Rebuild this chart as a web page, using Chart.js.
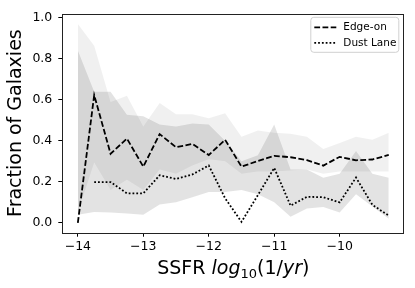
<!DOCTYPE html>
<html>
<head>
<meta charset="utf-8"/>
<style>
  body { margin: 0; padding: 0; background: #fff; }
  #wrap { width: 415px; height: 288px; }
</style>
</head>
<body>
<div id="wrap"><canvas id="chart" width="415" height="288"></canvas></div>
<script src="https://cdn.jsdelivr.net/npm/chart.js@4/dist/chart.umd.min.js"></script>
<script>
// bins of specific star formation rate (log10 1/yr)
var ssfr = [-14.0, -13.75, -13.5, -13.25, -13.0, -12.75, -12.5, -12.25, -12.0, -11.75,
            -11.5, -11.25, -11.0, -10.75, -10.5, -10.25, -10.0, -9.75, -9.5, -9.25];

var edgeOn   = [0.0, 0.623, 0.337, 0.411, 0.274, 0.433, 0.369, 0.385, 0.331, 0.405,
                0.274, 0.302, 0.327, 0.320, 0.306, 0.279, 0.322, 0.305, 0.309, 0.331];
var dustLane = [null, 0.199, 0.199, 0.144, 0.144, 0.232, 0.214, 0.236, 0.280, 0.120,
                0.005, 0.135, 0.268, 0.084, 0.127, 0.125, 0.100, 0.221, 0.088, 0.035];

// shaded ranges
var edgeHi = [0.97, 0.864, 0.59, 0.62, 0.47, 0.585, 0.53, 0.53, 0.51, 0.535,
              0.42, 0.45, 0.44, 0.435, 0.42, 0.36, 0.39, 0.42, 0.405, 0.44];
var edgeLo = [0.05, 0.294, 0.16, 0.21, 0.16, 0.26, 0.24, 0.28, 0.31, 0.30,
              0.24, 0.25, 0.25, 0.255, 0.26, 0.24, 0.25, 0.25, 0.25, 0.25];
var dustHi = [0.84, 0.639, 0.639, 0.527, 0.52, 0.48, 0.47, 0.485, 0.48, 0.40,
              0.30, 0.33, 0.48, 0.26, 0.26, 0.22, 0.24, 0.35, 0.24, 0.22];
var dustLo = [0.04, 0.053, 0.05, 0.046, 0.04, 0.09, 0.10, 0.125, 0.15, 0.15,
              0.16, 0.14, 0.10, 0.03, 0.07, 0.077, 0.05, 0.14, 0.08, 0.02];

var xTicks = [-14, -13, -12, -11, -10];
var yTicks = [0.0, 0.2, 0.4, 0.6, 0.8, 1.0];
var legendLabels = ['Edge-on', 'Dust Lane'];

var DASHED = [5.8, 2.4];
var DOTTED = [1.8, 2.0];

function pts(ys) {
  return ssfr.map(function(x, i) { return {x: x, y: ys[i]}; });
}
function band(ys, fill, color) {
  return {
    data: pts(ys), fill: fill, backgroundColor: color,
    borderColor: 'rgba(0,0,0,0)', borderWidth: 1, pointRadius: 0, tension: 0
  };
}

var FONT = 'DejaVu Sans';
Chart.defaults.font.family = FONT;
Chart.defaults.color = '#000';

var extras = {
  id: 'extras',
  afterDraw: function(chart) {
    var ctx = chart.ctx, a = chart.chartArea;
    ctx.save();
    // axes frame
    ctx.strokeStyle = '#222';
    ctx.lineWidth = 1;
    ctx.strokeRect(Math.round(a.left) + 0.5, Math.round(a.top) + 0.5,
                   Math.round(a.right - a.left) - 1, Math.round(a.bottom - a.top));

    // x axis title with math style parts
    var parts = [
      ['SSFR ', 'normal', 19, 0],
      ['log', 'italic', 19, 0],
      ['10', 'normal', 13, 4],
      ['(1/', 'normal', 19, 0],
      ['yr', 'italic', 19, 0],
      [')', 'normal', 19, 0]
    ];
    var total = 0;
    parts.forEach(function(p) {
      ctx.font = p[1] + ' ' + p[2] + 'px "' + FONT + '"';
      p.push(ctx.measureText(p[0]).width);
      total += p[4];
    });
    var x = (a.left + a.right) / 2 - total / 2;
    ctx.fillStyle = '#000';
    ctx.textBaseline = 'alphabetic';
    ctx.textAlign = 'left';
    parts.forEach(function(p) {
      ctx.font = p[1] + ' ' + p[2] + 'px "' + FONT + '"';
      ctx.fillText(p[0], x, 274 + p[3]);
      x += p[4];
    });

    // legend
    var bx = a.right - 93.5, by = a.top + 3.8, bw = 88, bh = 35;
    ctx.beginPath();
    ctx.roundRect(bx, by, bw, bh, 3);
    ctx.fillStyle = 'rgba(255,255,255,0.8)';
    ctx.fill();
    ctx.strokeStyle = '#d0d0d0';
    ctx.lineWidth = 1;
    ctx.stroke();
    var dashes = [DASHED, DOTTED];
    ctx.font = '10.5px "' + FONT + '"';
    ctx.textBaseline = 'middle';
    legendLabels.forEach(function(lbl, i) {
      var ly = by + 10 + i * 15.5;
      ctx.beginPath();
      ctx.setLineDash(dashes[i]);
      ctx.strokeStyle = '#000';
      ctx.lineWidth = 1.7;
      ctx.moveTo(bx + 3.5, ly);
      ctx.lineTo(bx + 25.5, ly);
      ctx.stroke();
      ctx.setLineDash([]);
      ctx.fillStyle = '#000';
      ctx.fillText(lbl, bx + 32.5, ly);
    });
    ctx.restore();
  }
};

new Chart(document.getElementById('chart'), {
  type: 'line',
  data: {
    datasets: [
      { label: legendLabels[0], data: pts(edgeOn), borderColor: '#000', borderWidth: 1.8,
        borderDash: DASHED, pointRadius: 0, fill: false, tension: 0 },
      { label: legendLabels[1], data: pts(dustLane), borderColor: '#000', borderWidth: 1.8,
        borderDash: DOTTED, pointRadius: 0, fill: false, tension: 0 },
      band(edgeHi, '+1', 'rgba(0,0,0,0.06)'),
      band(edgeLo, false, 'rgba(0,0,0,0)'),
      band(dustHi, '+1', 'rgba(0,0,0,0.11)'),
      band(dustLo, false, 'rgba(0,0,0,0)')
    ]
  },
  options: {
    responsive: false,
    animation: false,
    devicePixelRatio: 1,
    layout: { padding: { top: 10.7, right: 10.7, left: 0, bottom: 0 } },
    plugins: { legend: { display: false }, tooltip: { enabled: false } },
    scales: {
      x: {
        type: 'linear', min: -14.2375, max: -9.0125,
        afterBuildTicks: function(s) { s.ticks = xTicks.map(function(v) { return {value: v}; }); },
        afterFit: function(s) { s.height = 55.3; },
        grid: { drawOnChartArea: false, drawTicks: true, tickLength: 4, color: '#000' },
        border: { display: false },
        ticks: {
          font: { size: 12.5 }, color: '#000', padding: 3, maxRotation: 0,
          callback: function(v) { return (v < 0 ? '\u2212' : '') + Math.abs(v); }
        }
      },
      y: {
        min: -0.048, max: 1.021,
        afterBuildTicks: function(s) { s.ticks = yTicks.map(function(v) { return {value: v}; }); },
        afterFit: function(s) { s.width = 62.3; },
        grid: { drawOnChartArea: false, drawTicks: true, tickLength: 4, color: '#000' },
        border: { display: false },
        title: { display: true, text: 'Fraction of Galaxies', font: { size: 19 },
                 color: '#000', padding: { top: 5, bottom: 0 } },
        ticks: {
          font: { size: 12.5 }, color: '#000', padding: 6,
          callback: function(v) { return v.toFixed(1); }
        }
      }
    }
  },
  plugins: [extras]
});
</script>
</body>
</html>
